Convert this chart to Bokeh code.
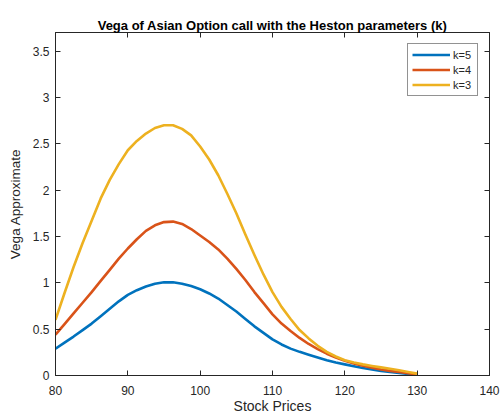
from bokeh.plotting import figure
from bokeh.models import Range1d, FixedTicker, LinearAxis, Legend, LegendItem, CustomJSTickFormatter
from bokeh.embed import file_html
from bokeh.resources import INLINE

# Data
stock_prices = [80, 81.25, 82.5, 83.75, 85, 86.25, 87.5, 88.75, 90, 91.25, 92.5, 93.75,
                95, 96.25, 97.5, 98.75, 100, 101.25, 102.5, 103.75, 105, 106.25, 107.5,
                108.75, 110, 111.25, 112.5, 113.75, 115, 116.25, 117.5, 118.75, 120,
                121.25, 122.5, 123.75, 125, 126.25, 127.5, 128.75, 130]
vega_k5 = [0.29, 0.355, 0.42, 0.49, 0.56, 0.64, 0.72, 0.80, 0.87, 0.92, 0.96, 0.99,
           1.005, 1.005, 0.99, 0.965, 0.93, 0.885, 0.83, 0.76, 0.69, 0.61, 0.53,
           0.46, 0.39, 0.335, 0.29, 0.255, 0.225, 0.195, 0.165, 0.14, 0.12,
           0.10, 0.08, 0.065, 0.05, 0.038, 0.027, 0.018, 0.01]
vega_k4 = [0.44, 0.555, 0.67, 0.785, 0.90, 1.02, 1.14, 1.26, 1.37, 1.47, 1.56, 1.62,
           1.655, 1.66, 1.635, 1.58, 1.51, 1.44, 1.36, 1.26, 1.15, 1.03, 0.90,
           0.78, 0.66, 0.56, 0.48, 0.405, 0.34, 0.285, 0.235, 0.195, 0.16,
           0.13, 0.105, 0.085, 0.065, 0.05, 0.038, 0.025, 0.012]
vega_k3 = [0.60, 0.89, 1.17, 1.43, 1.67, 1.91, 2.11, 2.28, 2.43, 2.53, 2.61, 2.67,
           2.70, 2.70, 2.66, 2.59, 2.47, 2.33, 2.16, 1.96, 1.75, 1.52, 1.30,
           1.09, 0.90, 0.74, 0.61, 0.49, 0.40, 0.32, 0.255, 0.205, 0.165,
           0.14, 0.12, 0.103, 0.088, 0.072, 0.056, 0.038, 0.02]
series_labels = ["k=5", "k=4", "k=3"]
series_colors = ["#0072BD", "#D95319", "#EDB120"]
x_ticks = [80, 90, 100, 110, 120, 130, 140]
y_ticks = [0, 0.5, 1, 1.5, 2, 2.5, 3, 3.5]
y_tick_labels = ["0", "0.5", "1", "1.5", "2", "2.5", "3", "3.5"]

AX = "#262626"
FONT = "Liberation Sans"

p = figure(width=500, height=416, output_backend="svg", toolbar_location=None,
           x_range=Range1d(80, 140), y_range=Range1d(0, 3.7),
           min_border_left=55, min_border_right=11, min_border_top=32, min_border_bottom=41,
           title="Vega of Asian Option call with the Heston parameters (k)")
p.title.text_font = FONT
p.title.text_font_size = "13px"
p.title.text_font_style = "bold"
p.title.text_color = "#000000"
p.title.align = "center"
p.title.standoff = 0

p.xgrid.visible = False
p.ygrid.visible = False
p.outline_line_color = AX
p.outline_line_width = 1
p.outline_line_alpha = 1

for ax in (p.xaxis[0], p.yaxis[0]):
    ax.axis_line_color = AX
    ax.major_tick_line_color = AX
    ax.major_tick_in = 5
    ax.major_tick_out = 0
    ax.minor_tick_line_color = None
    ax.major_label_text_font = FONT
    ax.major_label_text_font_size = "12px"
    ax.major_label_text_color = AX
    ax.axis_label_text_font = FONT
    ax.axis_label_text_font_style = "normal"
    ax.axis_label_text_color = AX

p.xaxis.ticker = FixedTicker(ticks=x_ticks)
p.yaxis.ticker = FixedTicker(ticks=y_ticks)
p.yaxis.major_label_overrides = {t: l for t, l in zip(y_ticks, y_tick_labels)}
p.xaxis.axis_label = "Stock Prices"
p.yaxis.axis_label = "Vega Approximate"
p.xaxis.axis_label_text_font_size = "14px"
p.yaxis.axis_label_text_font_size = "13.5px"
p.xaxis.major_label_standoff = 10
p.xaxis.axis_label_standoff = 0
p.yaxis.major_label_standoff = 6
p.yaxis.axis_label_standoff = 7

# mirrored tick axes on top and right (box style), no labels
blank = CustomJSTickFormatter(code="return ''")
top = LinearAxis(ticker=FixedTicker(ticks=x_ticks), formatter=blank,
                 major_tick_in=5, major_tick_out=0, minor_tick_line_color=None,
                 axis_line_color=AX, major_tick_line_color=AX, major_label_standoff=0)
right = LinearAxis(ticker=FixedTicker(ticks=y_ticks), formatter=blank,
                   major_tick_in=5, major_tick_out=0, minor_tick_line_color=None,
                   axis_line_color=AX, major_tick_line_color=AX, major_label_standoff=0)
p.add_layout(top, "above")
p.add_layout(right, "right")

renderers = []
for ys, c in zip([vega_k5, vega_k4, vega_k3], series_colors):
    r = p.line(stock_prices, ys, line_color=c, line_width=2.6, line_join="round")
    renderers.append(r)

legend = Legend(items=[LegendItem(label=l, renderers=[r]) for l, r in zip(series_labels, renderers)],
                location="top_right")
legend.label_text_font = FONT
legend.label_text_font_size = "11px"
legend.label_text_color = AX
legend.glyph_width = 38
legend.glyph_height = 13
legend.label_height = 13
legend.spacing = 2
legend.padding = 4
legend.margin = 11
legend.label_standoff = 3
legend.border_line_color = AX
legend.border_line_width = 1
legend.background_fill_alpha = 1
p.add_layout(legend, "center")

open("out.html", "w").write(file_html(p, INLINE))
